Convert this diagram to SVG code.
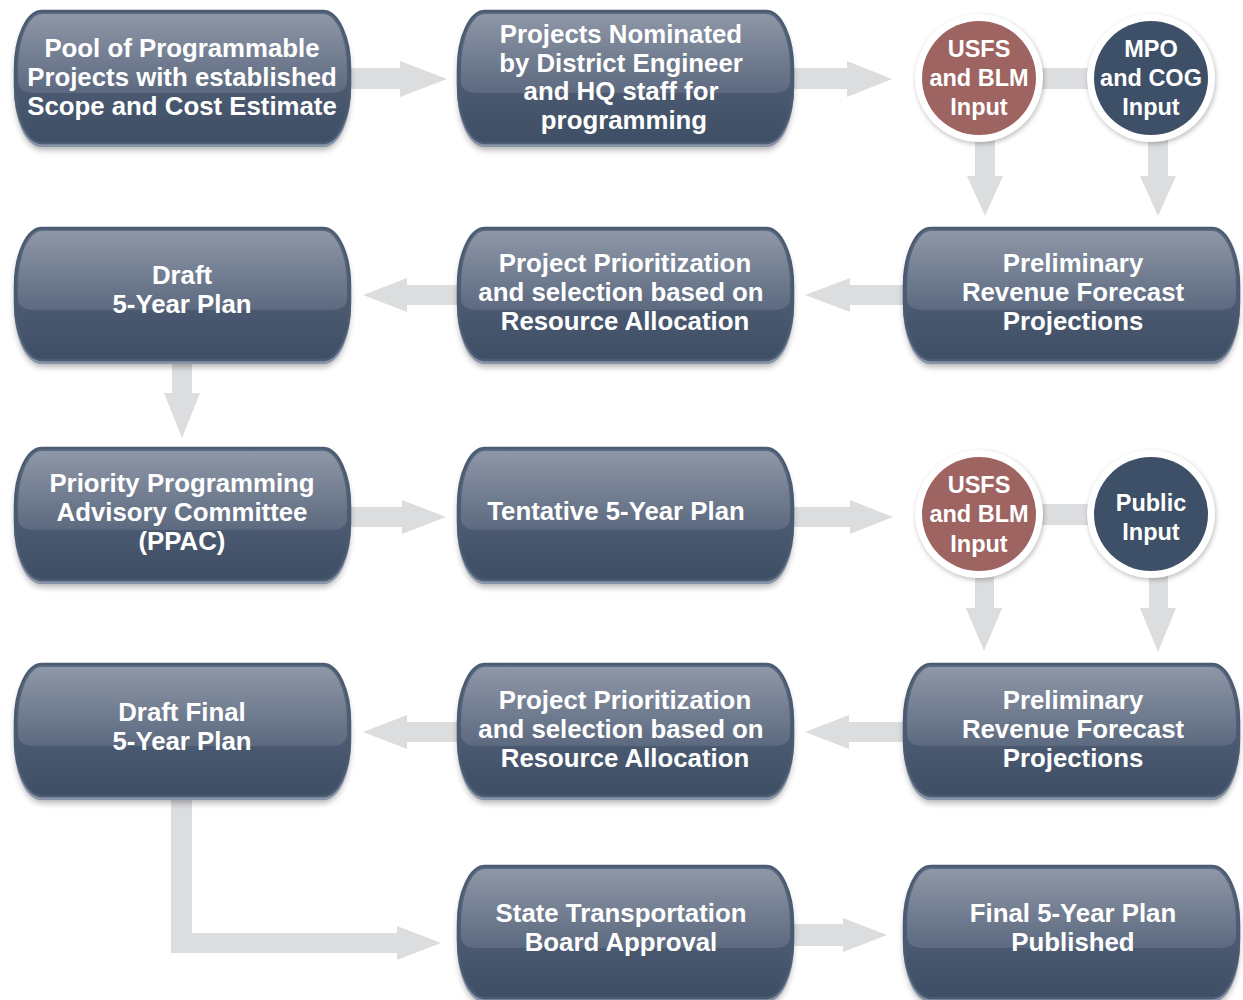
<svg xmlns="http://www.w3.org/2000/svg" xmlns:xlink="http://www.w3.org/1999/xlink" width="1243" height="1000" viewBox="0 0 1243 1000">
<defs>
<style>
.t{font-family:"Liberation Sans",Arial,sans-serif;font-weight:bold;font-size:25.8px;fill:#ffffff;text-anchor:middle}
.c{font-family:"Liberation Sans",Arial,sans-serif;font-weight:bold;font-size:23.5px;fill:#ffffff;text-anchor:middle}
.arr{fill:#dcdddf}
</style>
<linearGradient id="body" x1="0" y1="0" x2="0" y2="1">
<stop offset="0" stop-color="#5d6b82"/>
<stop offset="1" stop-color="#3e4e64"/>
</linearGradient>
<linearGradient id="gloss" x1="0" y1="0" x2="0" y2="1">
<stop offset="0" stop-color="#8e97a7"/>
<stop offset="1" stop-color="#5c697f"/>
</linearGradient>
<filter id="blur" x="-10%" y="-20%" width="120%" height="140%">
<feGaussianBlur stdDeviation="3"/>
</filter>
<filter id="cshadow" x="-20%" y="-20%" width="140%" height="140%">
<feGaussianBlur stdDeviation="2.5"/>
</filter>
<g id="nodeShape">
<rect x="1" y="6" width="335" height="134" rx="27" ry="58" fill="#000" opacity="0.3" filter="url(#blur)"/>
<rect x="0" y="3" width="337" height="134" rx="27" ry="58" fill="#8793a6"/>
<rect x="1" y="1" width="335" height="132" rx="27" ry="58" fill="url(#body)" stroke="#4b5b72" stroke-width="2.5"/>
<path d="M28,4 H309 A24,55 0 0 1 333,59 V72 Q332,83 317,83 H20 Q5,83 4,72 V59 A24,55 0 0 1 28,4 Z" fill="url(#gloss)"/>
</g>
</defs>

<g id="connectors">
<path class="arr" d="M351,68 H400 V61 L447,79 L400,97 V89 H351 Z"/>
<path class="arr" d="M793,68 H847 V61 L892,79 L847,97 V89 H793 Z"/>
<rect class="arr" x="1038" y="68" width="54" height="21"/>
<path class="arr" d="M975,135 H995 V176 H1003 L985,216 L967,176 H975 Z"/>
<path class="arr" d="M1148,135 H1168 V176 H1176 L1158,216 L1140,176 H1148 Z"/>
<path class="arr" d="M906,285 H850 V278 L805,295 L850,312 V305 H906 Z"/>
<path class="arr" d="M458,285 H407 V278 L363,295 L407,312 V305 H458 Z"/>
<path class="arr" d="M172,362 H192 V393 H200 L182,438 L164,393 H172 Z"/>
<path class="arr" d="M351,507 H402 V500 L446,517 L402,534 V527 H351 Z"/>
<path class="arr" d="M793,507 H850 V500 L893,517 L850,534 V527 H793 Z"/>
<rect class="arr" x="1038" y="504" width="54" height="21"/>
<path class="arr" d="M975,572 H994 V608 H1002 L984,651 L966,608 H975 Z"/>
<path class="arr" d="M1149,572 H1168 V608 H1176 L1158,652 L1140,608 H1149 Z"/>
<path class="arr" d="M906,722 H849 V715 L805,732 L849,749 V742 H906 Z"/>
<path class="arr" d="M458,722 H407 V715 L363,732 L407,749 V742 H458 Z"/>
<path class="arr" d="M171,800 H192 V933 H397 V926 L441,943 L397,960 V953 H171 Z"/>
<path class="arr" d="M793,924 H843 V918 L887,935 L843,952 V946 H793 Z"/>
</g>

<g id="n1">
<use xlink:href="#nodeShape" x="14" y="10"/>
<text class="t" x="182" y="57">Pool of Programmable</text>
<text class="t" x="182" y="86">Projects with established</text>
<text class="t" x="182" y="115">Scope and Cost Estimate</text>
</g>
<g id="n2">
<use xlink:href="#nodeShape" x="457" y="10"/>
<text class="t" x="621" y="43">Projects Nominated</text>
<text class="t" x="621" y="72">by District Engineer</text>
<text class="t" x="621" y="100">and HQ staff for</text>
<text class="t" x="624" y="129">programming</text>
</g>
<g id="c1">
<circle cx="980" cy="80" r="64" fill="#000" opacity="0.25" filter="url(#cshadow)"/>
<circle cx="979" cy="78" r="64" fill="#ffffff"/>
<circle cx="979" cy="78" r="57" fill="#9e6462"/>
<text class="c" x="979" y="57">USFS</text>
<text class="c" x="979" y="86">and BLM</text>
<text class="c" x="979" y="115">Input</text>
</g>
<g id="c2">
<circle cx="1152" cy="80" r="64" fill="#000" opacity="0.25" filter="url(#cshadow)"/>
<circle cx="1151" cy="78" r="64" fill="#ffffff"/>
<circle cx="1151" cy="78" r="57" fill="#3e5068"/>
<text class="c" x="1151" y="57">MPO</text>
<text class="c" x="1151" y="86">and COG</text>
<text class="c" x="1151" y="115">Input</text>
</g>

<g id="n3">
<use xlink:href="#nodeShape" x="14" y="227"/>
<text class="t" x="182" y="284">Draft</text>
<text class="t" x="182" y="313">5-Year Plan</text>
</g>
<g id="n4">
<use xlink:href="#nodeShape" x="457" y="227"/>
<text class="t" x="625" y="272">Project Prioritization</text>
<text class="t" x="621" y="301">and selection based on</text>
<text class="t" x="625" y="330">Resource Allocation</text>
</g>
<g id="n5">
<use xlink:href="#nodeShape" x="903" y="227"/>
<text class="t" x="1073" y="272">Preliminary</text>
<text class="t" x="1073" y="301">Revenue Forecast</text>
<text class="t" x="1073" y="330">Projections</text>
</g>

<g id="n6">
<use xlink:href="#nodeShape" x="14" y="447"/>
<text class="t" x="182" y="492">Priority Programming</text>
<text class="t" x="182" y="521">Advisory Committee</text>
<text class="t" x="182" y="550">(PPAC)</text>
</g>
<g id="n7">
<use xlink:href="#nodeShape" x="457" y="447"/>
<text class="t" x="616" y="520">Tentative 5-Year Plan</text>
</g>
<g id="c3">
<circle cx="980" cy="516" r="64" fill="#000" opacity="0.25" filter="url(#cshadow)"/>
<circle cx="979" cy="514" r="64" fill="#ffffff"/>
<circle cx="979" cy="514" r="57" fill="#9e6462"/>
<text class="c" x="979" y="493">USFS</text>
<text class="c" x="979" y="522">and BLM</text>
<text class="c" x="979" y="552">Input</text>
</g>
<g id="c4">
<circle cx="1152" cy="516" r="64" fill="#000" opacity="0.25" filter="url(#cshadow)"/>
<circle cx="1151" cy="514" r="64" fill="#ffffff"/>
<circle cx="1151" cy="514" r="57" fill="#3e5068"/>
<text class="c" x="1151" y="511">Public</text>
<text class="c" x="1151" y="540">Input</text>
</g>

<g id="n8">
<use xlink:href="#nodeShape" x="14" y="663"/>
<text class="t" x="182" y="721">Draft Final</text>
<text class="t" x="182" y="750">5-Year Plan</text>
</g>
<g id="n9">
<use xlink:href="#nodeShape" x="457" y="663"/>
<text class="t" x="625" y="709">Project Prioritization</text>
<text class="t" x="621" y="738">and selection based on</text>
<text class="t" x="625" y="767">Resource Allocation</text>
</g>
<g id="n10">
<use xlink:href="#nodeShape" x="903" y="663"/>
<text class="t" x="1073" y="709">Preliminary</text>
<text class="t" x="1073" y="738">Revenue Forecast</text>
<text class="t" x="1073" y="767">Projections</text>
</g>

<g id="n11">
<use xlink:href="#nodeShape" x="457" y="865"/>
<text class="t" x="621" y="922">State Transportation</text>
<text class="t" x="621" y="951">Board Approval</text>
</g>
<g id="n12">
<use xlink:href="#nodeShape" x="903" y="865"/>
<text class="t" x="1073" y="922">Final 5-Year Plan</text>
<text class="t" x="1073" y="951">Published</text>
</g>
</svg>
